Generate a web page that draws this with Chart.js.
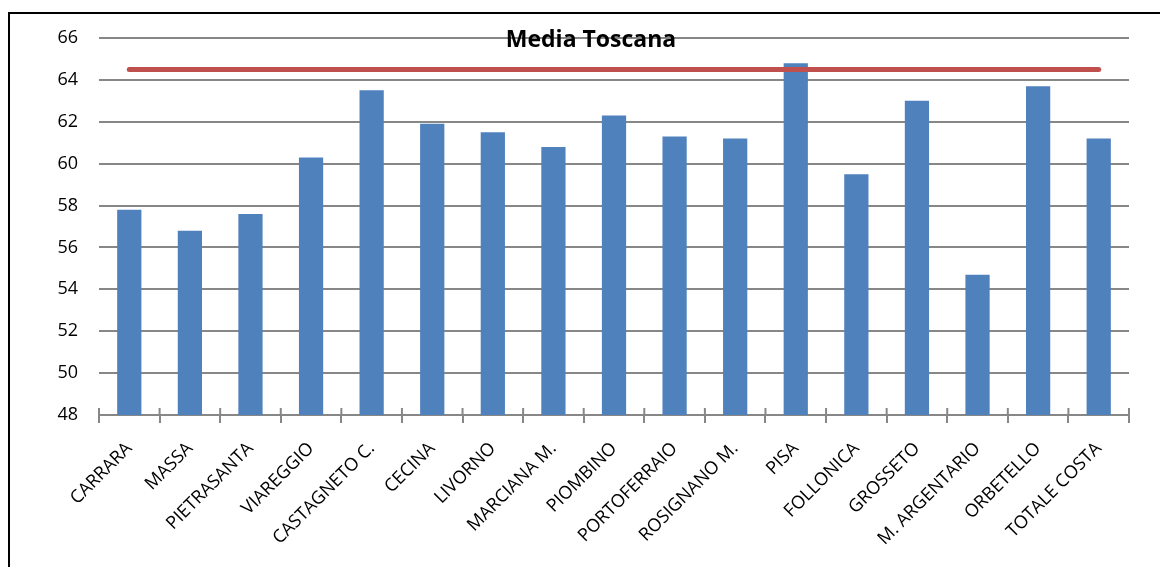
<!DOCTYPE html>
<html>
<head>
<meta charset="utf-8">
<script src="https://cdn.jsdelivr.net/npm/chart.js@4/dist/chart.umd.min.js"></script>
<style>
  html,body{margin:0;padding:0;background:#fff;overflow:hidden;}
  #frame{position:absolute;left:8px;top:12px;width:1170px;height:600px;border:2px solid #000;box-sizing:border-box;}
  #wrap{position:absolute;left:0;top:0;width:1160px;height:567px;}
  #title{position:absolute;left:0;width:1182px;top:22px;text-align:center;font:bold 23px "Open Sans",sans-serif;color:#000;pointer-events:none;}
</style>
</head>
<body>
<div id="frame"></div>
<div id="wrap"><canvas id="c" width="1160" height="567"></canvas></div>
<div id="title">Media Toscana</div>
<script>
// comuni della costa
const labels=['CARRARA','MASSA','PIETRASANTA','VIAREGGIO','CASTAGNETO C.','CECINA','LIVORNO','MARCIANA M.','PIOMBINO','PORTOFERRAIO','ROSIGNANO M.','PISA','FOLLONICA','GROSSETO','M. ARGENTARIO','ORBETELLO','TOTALE COSTA'];
const valori=[57.8,56.8,57.6,60.3,63.5,61.9,61.5,60.8,62.3,61.3,61.2,64.8,59.5,63.0,54.7,63.7,61.2];
const mediaToscana=[64.5,64.5,64.5,64.5,64.5,64.5,64.5,64.5,64.5,64.5,64.5,64.5,64.5,64.5,64.5,64.5,64.5];
const yMin=48, yMax=66, yStep=2;

const grigio='#878787';

// piccoli segni di graduazione anche sopra l'asse x
const tickSopra={
  id:'tickSopra',
  afterDraw(chart){
    const x=chart.scales.x, ctx=chart.ctx, yb=chart.chartArea.bottom;
    ctx.save(); ctx.strokeStyle=grigio; ctx.lineWidth=2;
    for(let i=0;i<=labels.length;i++){
      const px=x.getPixelForValue(i-0.5);
      ctx.beginPath(); ctx.moveTo(px,yb); ctx.lineTo(px,yb-7); ctx.stroke();
    }
    ctx.restore();
  }
};

new Chart(document.getElementById('c'),{
  data:{ labels, datasets:[
    {type:'line', label:'Media Toscana', data:mediaToscana, borderColor:'#C0504D', borderWidth:5, pointRadius:0, borderCapStyle:'round', order:0},
    {type:'bar', label:'Valori', data:valori, backgroundColor:'#4F81BD', borderWidth:0, categoryPercentage:1, barPercentage:0.4, order:1}
  ]},
  options:{
    responsive:false, animation:false,
    layout:{padding:{top:38,right:31,left:0,bottom:0}},
    plugins:{legend:{display:false}, tooltip:{enabled:false}, title:{display:false}},
    scales:{
      x:{
        offset:true,
        grid:{offset:true, drawOnChartArea:false, color:grigio, lineWidth:2, tickLength:8},
        border:{color:grigio, width:2},
        ticks:{color:'#000', font:{family:'"Open Sans"', size:18}, minRotation:45, maxRotation:45, padding:15, autoSkip:false},
        afterFit:s=>{ s.height=152; }
      },
      y:{
        min:yMin, max:yMax,
        grid:{color:grigio, lineWidth:2, drawTicks:false},
        border:{display:false},
        ticks:{stepSize:yStep, color:'#000', font:{family:'"Open Sans"', size:18}, padding:21},
        afterFit:s=>{ s.width=99; }
      }
    }
  },
  plugins:[tickSopra]
});
</script>
</body>
</html>
